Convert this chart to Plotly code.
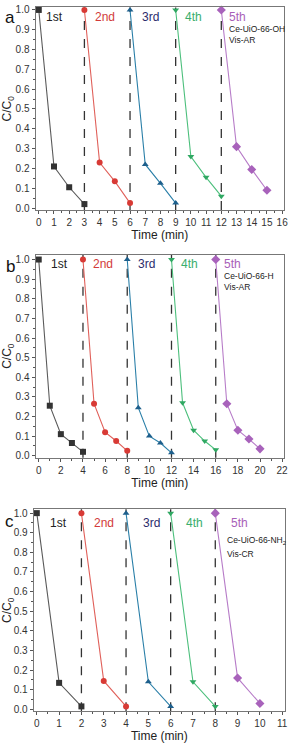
import plotly.graph_objects as go

# ---------------- data ----------------
runs = ["1st", "2nd", "3rd", "4th", "5th"]

a_x = [[0, 1, 2, 3], [3, 4, 5, 6], [6, 7, 8, 9], [9, 10, 11, 12], [12, 13, 14, 15]]
a_y = [[1.0, 0.21, 0.105, 0.02], [1.0, 0.23, 0.135, 0.025], [1.0, 0.22, 0.125, 0.025],
       [1.0, 0.26, 0.155, 0.06], [1.0, 0.31, 0.195, 0.09]]

b_x = [[0, 1, 2, 3, 4], [4, 5, 6, 7, 8], [8, 9, 10, 11, 12], [12, 13, 14, 15, 16], [16, 17, 18, 19, 20]]
b_y = [[1.0, 0.255, 0.11, 0.065, 0.02], [1.0, 0.265, 0.12, 0.075, 0.025],
       [1.0, 0.245, 0.10, 0.065, 0.015], [1.0, 0.27, 0.13, 0.075, 0.03],
       [1.0, 0.265, 0.13, 0.085, 0.035]]

c_x = [[0, 1, 2], [2, 3, 4], [4, 5, 6], [6, 7, 8], [8, 9, 10]]
c_y = [[1.0, 0.135, 0.015], [1.0, 0.145, 0.015], [1.0, 0.14, 0.015],
       [1.0, 0.14, 0.015], [1.0, 0.16, 0.03]]

a_cycles = [3, 6, 9, 12]
b_cycles = [4, 8, 12, 16]
c_cycles = [2, 4, 6, 8]

a_x_ticks = list(range(0, 17, 1))
b_x_ticks = list(range(0, 23, 2))
c_x_ticks = list(range(0, 12, 1))
y_ticks = [round(i * 0.1, 1) for i in range(11)]

a_sample = ["Ce-UiO-66-OH", "Vis-AR"]
b_sample = ["Ce-UiO-66-H", "Vis-AR"]
c_sample = ["Ce-UiO-66-NH<sub>2</sub>", "Vis-CR"]

# ---------------- styles ----------------
line_colors = ["#5a5a5a", "#e0605a", "#2a7fa8", "#4cbf7c", "#b77cc8"]
marker_colors = ["#333333", "#d83a35", "#1d5f8c", "#2fa862", "#a862bb"]
label_colors = ["#222222", "#d23a3a", "#2c2c6c", "#3aae6c", "#a860b8"]
symbols = ["square", "circle", "triangle-up", "triangle-down", "diamond"]
FONT = "Arial, Liberation Sans, sans-serif"

W, H = 297, 747
def px2x(p):
    return p / W
def px2y(p):
    return 1 - p / H

panels = [
    dict(xs=a_x, ys=a_y, cyc=a_cycles, ticks=a_x_ticks, minor=0.5, xr=[-0.214, 16.13], yr=[-0.01, 1.0125],
         xd=[px2x(36), px2x(288)], yd=[px2y(209), px2y(4.5)], letter="a", sample=a_sample,
         run_x=[0.37, 3.55, 6.66, 9.5, 12.37], run_y=0.965, samp_x=12.37, samp_y=[0.905, 0.85],
         letter_pos=(10, 15)),
    dict(xs=b_x, ys=b_y, cyc=b_cycles, ticks=b_x_ticks, minor=1, xr=[-0.29, 22.18], yr=[-0.01, 1.025],
         xd=[px2x(36), px2x(288)], yd=[px2y(459), px2y(254)], letter="b", sample=b_sample,
         run_x=[0.9, 4.73, 8.8, 12.7, 16.6], run_y=0.975, samp_x=16.6, samp_y=[0.914, 0.858],
         letter_pos=(11, 266)),
    dict(xs=c_x, ys=c_y, cyc=c_cycles, ticks=c_x_ticks, minor=0.5, xr=[-0.146, 11.13], yr=[-0.01, 1.02],
         xd=[px2x(34), px2x(289)], yd=[px2y(715), px2y(511)], letter="c", sample=c_sample,
         run_x=[0.49, 2.48, 4.68, 6.6, 8.6], run_y=0.95, samp_x=8.45, samp_y=[0.86, 0.79],
         letter_pos=(10, 523)),
]

fig = go.Figure()
annotations = []
shapes = []

for i, p in enumerate(panels):
    n = "" if i == 0 else str(i + 1)
    xa, ya = "x" + n, "y" + n
    for k in range(5):
        fig.add_trace(go.Scatter(
            x=p["xs"][k], y=p["ys"][k], mode="lines+markers", xaxis=xa, yaxis=ya,
            line=dict(color=line_colors[k], width=1.1),
            marker=dict(symbol=symbols[k], size=6 if symbols[k] != "diamond" else 7,
                        color=marker_colors[k], line=dict(width=0)),
            showlegend=False, cliponaxis=False))
    for cx in p["cyc"]:
        shapes.append(dict(type="line", xref=xa, yref=ya + " domain", x0=cx, x1=cx, y0=0, y1=1,
                           line=dict(color="#333333", width=1.3, dash="dash"), layer="below"))
    layout_x = dict(domain=p["xd"], range=p["xr"], anchor=ya, tickmode="array", tickvals=p["ticks"],
                    ticks="outside", ticklen=3, tickwidth=1, tickcolor="#555", showline=True,
                    linecolor="#777", linewidth=1, mirror=True, showgrid=False, zeroline=False,
                    tickfont=dict(family=FONT, size=10, color="#333"),
                    minor=dict(ticks="outside", dtick=p["minor"], tick0=0, ticklen=2, tickcolor="#555"),
                    title=dict(text="Time (min)", font=dict(family=FONT, size=12, color="#222"), standoff=3))
    layout_y = dict(domain=p["yd"], range=p["yr"], anchor=xa, tickmode="array", tickvals=y_ticks,
                    ticktext=[f"{v:.1f}" for v in y_ticks],
                    ticks="outside", ticklen=3, tickwidth=1, tickcolor="#555", showline=True,
                    linecolor="#777", linewidth=1, mirror=True, showgrid=False, zeroline=False,
                    tickfont=dict(family=FONT, size=10, color="#333"),
                    minor=dict(ticks="outside", dtick=0.05, tick0=0, ticklen=2, tickcolor="#555"),
                    title=dict(text="C/C<sub>0</sub>", font=dict(family=FONT, size=12, color="#222"), standoff=2))
    fig.layout["xaxis" + n] = layout_x
    fig.layout["yaxis" + n] = layout_y

    for k in range(5):
        annotations.append(dict(x=p["run_x"][k], y=p["run_y"], xref=xa, yref=ya, text=runs[k],
                                showarrow=False, xanchor="left", yanchor="middle",
                                font=dict(family=FONT, size=12, color=label_colors[k])))
    for t, sy in zip(p["sample"], p["samp_y"]):
        annotations.append(dict(x=p["samp_x"], y=sy, xref=xa, yref=ya, text=t, showarrow=False,
                                xanchor="left", yanchor="middle",
                                font=dict(family=FONT, size=8.5, color="#222")))
    lx, ly = p["letter_pos"]
    annotations.append(dict(x=px2x(lx), y=px2y(ly), xref="paper", yref="paper", text=p["letter"],
                            showarrow=False, xanchor="center", yanchor="middle",
                            font=dict(family=FONT, size=17, color="#111")))

fig.update_layout(width=W, height=H, margin=dict(l=0, r=0, t=0, b=0),
                  paper_bgcolor="white", plot_bgcolor="white",
                  annotations=annotations, shapes=shapes)

fig.write_html("out.html", config={"displayModeBar": False},
               post_script="document.body.style.margin='0';document.body.style.overflow='hidden';")
